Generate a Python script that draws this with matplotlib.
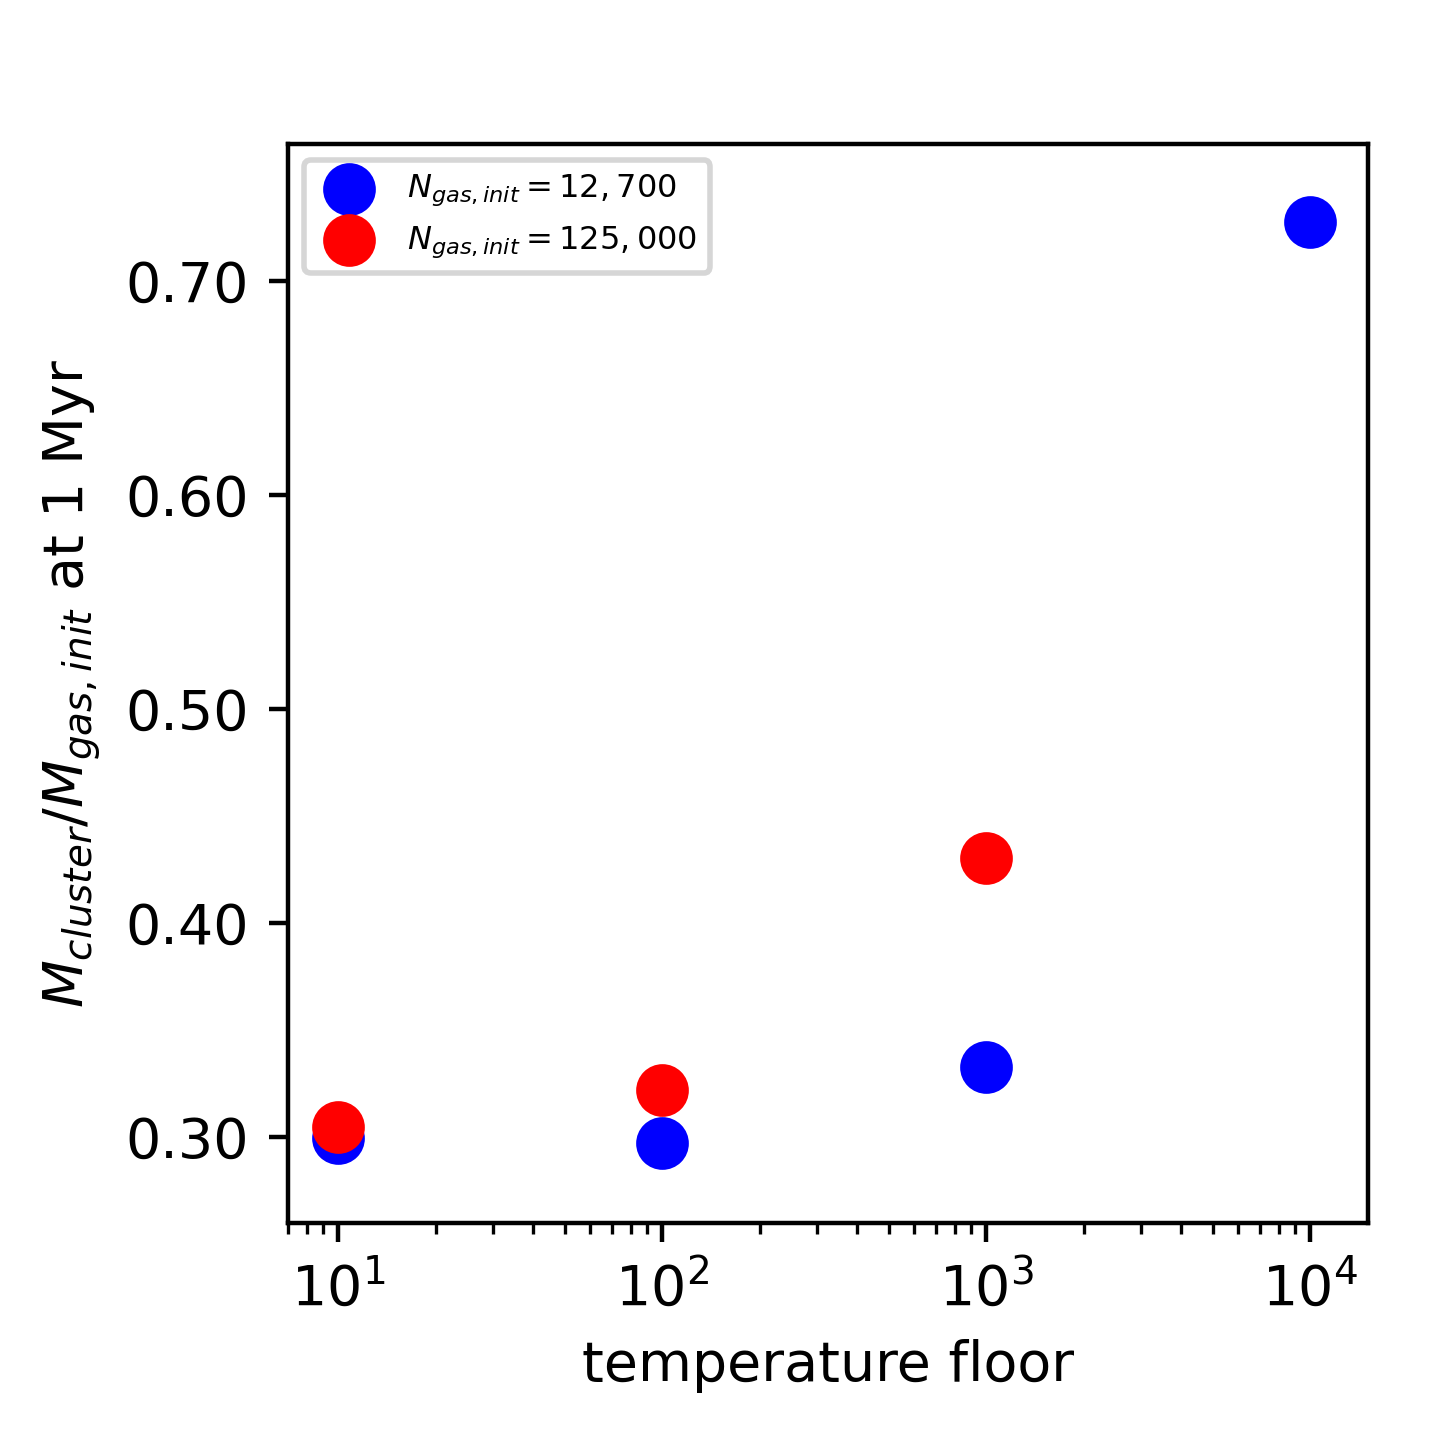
import numpy as np
import matplotlib
matplotlib.use("Agg")
from matplotlib import pyplot as plt

# temperature floor values and cluster mass fractions
t_floor_low = [10, 100, 1000, 10000]
frac_low = [0.2995, 0.297, 0.3327, 0.7276]

t_floor_high = [10, 100, 1000]
frac_high = [0.3047, 0.322, 0.430]

yticks = [0.30, 0.40, 0.50, 0.60, 0.70]

fig = plt.figure(figsize=(3.6, 3.6), dpi=400)
ax = fig.add_subplot(111)
fig.subplots_adjust(left=0.2, right=0.95, top=0.9, bottom=0.151)

ax.scatter(t_floor_low, frac_low, c='b', s=72, label=r'$N_{gas,init} = 12,700$')
ax.scatter(t_floor_high, frac_high, c='r', s=72, label=r'$N_{gas,init} = 125,000$')

ax.set_xscale('log')
ax.set_xlim(7.0, 15100)
ax.set_ylim(0.2598, 0.764)
ax.set_yticks(yticks)
ax.set_yticklabels([f'{v:.2f}' for v in yticks])

ax.set_xlabel('temperature floor')
ax.set_ylabel(r'$M_{cluster}/M_{gas,init}$ at 1 Myr')
ax.legend(loc='upper left', fontsize='xx-small')

fig.savefig('out.png', dpi=400)
